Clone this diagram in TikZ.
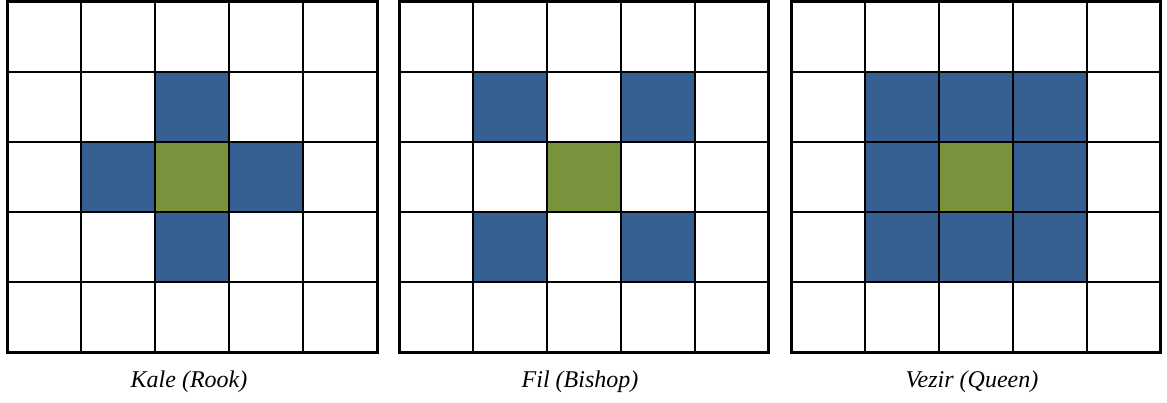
\documentclass[tikz,border=0pt]{standalone}
\usepackage{fontspec}
\setmainfont{Liberation Serif}
\definecolor{mvblue}{HTML}{376092}
\definecolor{mvgreen}{HTML}{77933C}
\tikzset{
  blue cell/.style={fill=mvblue},
  green cell/.style={fill=mvgreen},
  inner line/.style={line width=2pt},
  outer line/.style={line width=3pt},
  caption/.style={font=\itshape\fontsize{24}{28}\selectfont, anchor=base}
}
\newcommand{\cellfill}[4]{% #1 x0, #2 col, #3 row, #4 style
  \fill[#4] ({#1+#2*73.9},{1.5+#3*70.1}) rectangle ({#1+(#2+1)*73.9},{1.5+(#3+1)*70.1});}
\newcommand{\gridlines}[1]{%
  \foreach \i in {1,...,4} {
    \draw[inner line] ({#1+\i*73.9},1.5) -- ({#1+\i*73.9},352);
    \draw[inner line] (#1,{1.5+\i*70.1}) -- ({#1+5*73.9},{1.5+\i*70.1});
  }
  \draw[outer line] (#1,1.5) rectangle ({#1+5*73.9},352);}
\begin{document}
\begin{tikzpicture}[x=1pt,y=-1pt]
\useasboundingbox (0,0) rectangle (1167,403);
% Rook
\foreach \c/\r in {2/1,1/2,3/2,2/3} {\cellfill{7.5}{\c}{\r}{blue cell}}
\cellfill{7.5}{2}{2}{green cell}
\gridlines{7.5}
% Bishop
\foreach \c/\r in {1/1,3/1,1/3,3/3} {\cellfill{399}{\c}{\r}{blue cell}}
\cellfill{399}{2}{2}{green cell}
\gridlines{399}
% Queen
\foreach \c/\r in {1/1,2/1,3/1,1/2,3/2,1/3,2/3,3/3} {\cellfill{791}{\c}{\r}{blue cell}}
\cellfill{791}{2}{2}{green cell}
\gridlines{791}
% captions
\node[caption] (rook) at (189,387) {Kale (Rook)};
\node[caption] (bishop) at (580,387) {Fil (Bishop)};
\node[caption] (queen) at (972,387) {Vezir (Queen)};
\end{tikzpicture}
\end{document}
